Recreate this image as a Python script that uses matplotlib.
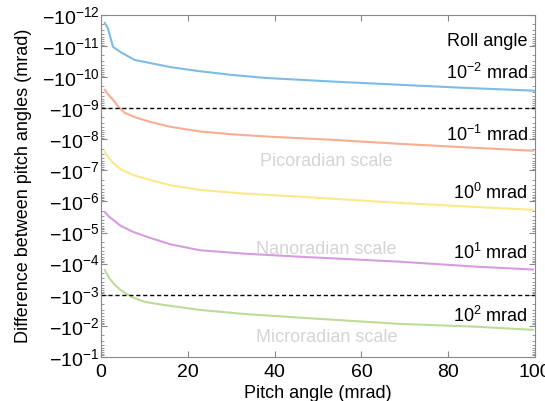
import numpy as np
import matplotlib
matplotlib.use("Agg")
import matplotlib.pyplot as plt
from matplotlib.ticker import FixedLocator, FuncFormatter, LogLocator, NullFormatter

plt.rcParams.update({
    "font.family": "Liberation Sans",
    "mathtext.fontset": "custom",
    "mathtext.rm": "Liberation Sans",
    "mathtext.it": "Liberation Sans",
    "font.size": 13,
})

# pitch angle (mrad) and log10 |difference| (mrad)
pitch_blue = [0.9, 1.6, 2.8, 4.8, 7.8, 11, 16, 22, 30, 38, 54, 69, 84, 100]
exp_blue = [-11.74, -11.58, -10.97, -10.78, -10.55, -10.46, -10.32, -10.2, -10.07,
            -9.97, -9.85, -9.75, -9.65, -9.56]

pitch_orange = [0.9, 1.8, 2.8, 4, 5.5, 8, 11.3, 16, 22.8, 30, 39, 53.5, 69, 86.6, 99.5]
exp_orange = [-9.59, -9.42, -9.27, -9.05, -8.85, -8.70, -8.56, -8.40, -8.25, -8.16,
              -8.08, -7.98, -7.85, -7.72, -7.63]

pitch_yellow = [0.9, 1.8, 2.8, 4.5, 7.4, 11.3, 16, 22.8, 33, 46, 69, 86.6, 99.5]
exp_yellow = [-7.59, -7.40, -7.24, -7.04, -6.85, -6.69, -6.52, -6.37, -6.25, -6.15,
              -5.95, -5.82, -5.73]

pitch_purple = [0.9, 1.8, 2.8, 4.5, 7.4, 11.3, 16, 22.8, 33, 46, 69, 86.6, 99.5]
exp_purple = [-5.66, -5.52, -5.41, -5.22, -5.02, -4.83, -4.62, -4.43, -4.32, -4.22,
              -4.06, -3.90, -3.81]

pitch_green = [0.9, 2, 3.2, 4.3, 5.5, 7.5, 10.1, 14, 22.8, 33, 46, 69, 86.6, 99.5]
exp_green = [-3.80, -3.52, -3.32, -3.18, -3.06, -2.90, -2.77, -2.68, -2.51, -2.38,
             -2.26, -2.06, -1.97, -1.87]

roll_labels = [r"$10^{-2}$ mrad", r"$10^{-1}$ mrad", r"$10^{0}$ mrad",
               r"$10^{1}$ mrad", r"$10^{2}$ mrad"]
roll_label_exp = [-10.13, -8.14, -6.27, -4.35, -2.32]
threshold_exp = [-9, -3]
scale_names = ["Picoradian scale", "Nanoradian scale", "Microradian scale"]
scale_exp = [-7.27, -4.44, -1.61]

series = [
    (pitch_blue, exp_blue, "#7dbce9"),
    (pitch_orange, exp_orange, "#f8ae92"),
    (pitch_yellow, exp_yellow, "#fce98a"),
    (pitch_purple, exp_purple, "#d69ce0"),
    (pitch_green, exp_green, "#bcdc98"),
]

fig = plt.figure(figsize=(5.45, 4.01), dpi=100)
ax = fig.add_axes([0.185, 0.110, 0.797, 0.853])

for p, e, c in series:
    ax.plot(p, 10.0 ** np.array(e), color=c, linewidth=1.5)

for t in threshold_exp:
    ax.axhline(10.0 ** t, color="black", linestyle=(0, (3, 2)), linewidth=1.0)

ax.set_yscale("log")
ax.set_ylim(1e-1, 1e-12)
ax.set_xlim(0, 100)

ax.yaxis.set_major_locator(FixedLocator([10.0 ** k for k in range(-12, 0)]))
ax.yaxis.set_major_formatter(FuncFormatter(
    lambda v, pos: r"$-10^{%d}$" % int(round(np.log10(v)))))
ax.yaxis.set_minor_locator(LogLocator(base=10, subs=np.arange(2, 10), numticks=20))
ax.yaxis.set_minor_formatter(NullFormatter())
ax.set_xticks([0, 20, 40, 60, 80, 100])

ax.tick_params(which="both", direction="in", top=True, right=True, color="#888888")
ax.tick_params(which="major", length=4, labelsize=14)
ax.tick_params(axis="y", which="major", pad=1)
ax.tick_params(axis="x", which="major", pad=5)
ax.tick_params(which="minor", length=2)
for s in ax.spines.values():
    s.set_color("#888888")

ax.set_xlabel("Pitch angle (mrad)", fontsize=13, labelpad=3)
ax.set_ylabel("Difference between pitch angles (mrad)", fontsize=13, labelpad=7)

ax.text(98.3, 10.0 ** -11.13, "Roll angle", ha="right", va="center", fontsize=13)
for lab, e in zip(roll_labels, roll_label_exp):
    ax.text(98.3, 10.0 ** e, lab, ha="right", va="center", fontsize=13)
for name, e in zip(scale_names, scale_exp):
    ax.text(52, 10.0 ** e, name, ha="center", va="center", fontsize=13, color="#d5d5d5")

fig.savefig("out.png", dpi=100)
